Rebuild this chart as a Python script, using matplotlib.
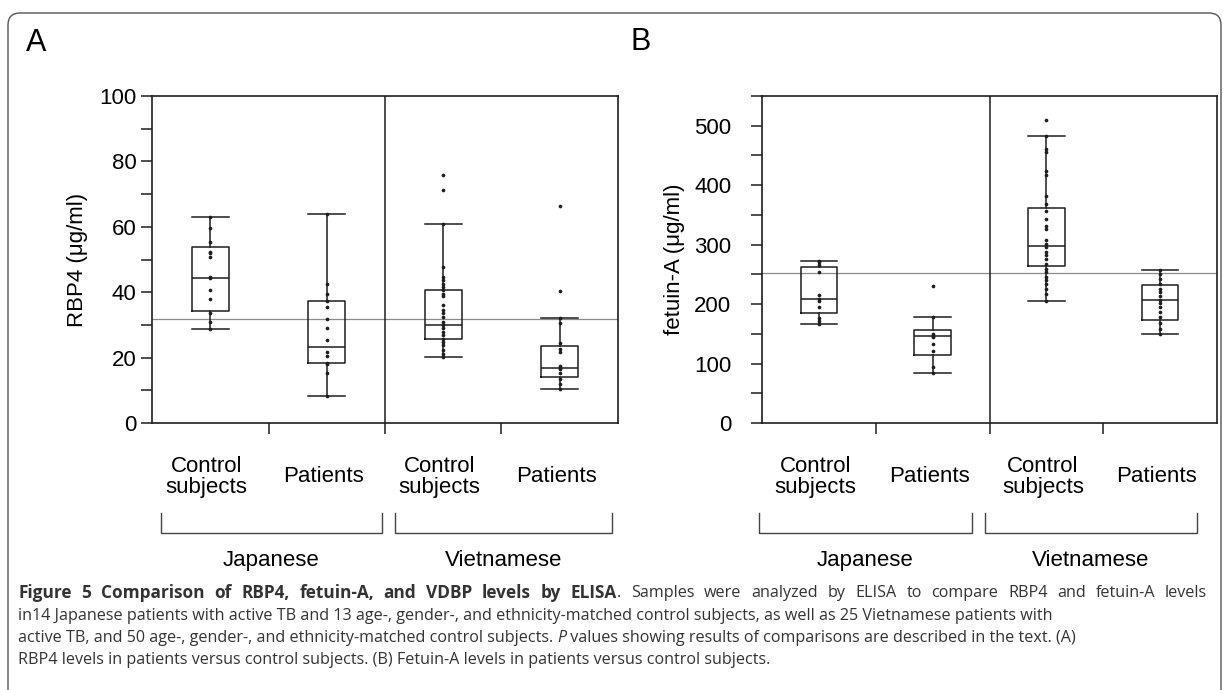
import matplotlib
matplotlib.use("Agg")
import matplotlib.pyplot as plt
from matplotlib.patches import FancyBboxPatch
from matplotlib.ticker import MultipleLocator

plt.rcParams['font.family'] = ['Liberation Sans', 'DejaVu Sans']

# group order: Japanese control, Japanese patients, Vietnamese control, Vietnamese patients
groups = ['Control\nsubjects', 'Patients', 'Control\nsubjects', 'Patients']
nations = ['Japanese', 'Vietnamese']

# panel A: RBP4 (ug/ml)
rbp4_whislo = [28.7, 8.3, 20.2, 10.4]
rbp4_q1 = [34.3, 18.2, 25.7, 14.0]
rbp4_med = [44.2, 23.3, 30.1, 16.9]
rbp4_q3 = [53.9, 37.4, 40.8, 23.6]
rbp4_whishi = [63.1, 63.9, 60.8, 32.2]
rbp4_pts_jc = [63.1, 59.7, 55.4, 52.3, 51.9, 50.8, 44.5, 44.2, 40.8, 37.9, 33.5, 31.0, 28.7]
rbp4_pts_jp = [63.9, 42.4, 39.6, 37.3, 35.5, 31.9, 29.1, 25.3, 21.7, 20.4, 18.4, 18.0, 15.3, 8.3]
rbp4_pts_vc = [75.8, 71.4, 60.8, 47.6, 44.7, 43.7, 42.4, 41.6, 40.6, 39.6, 38.8, 36.0, 34.5,
               33.5, 32.4, 30.9, 29.9, 28.9, 27.9, 26.8, 25.8, 24.8, 23.8, 22.4, 21.2, 20.2]
rbp4_pts_vp = [66.4, 40.4, 32.2, 30.7, 24.4, 22.5, 21.8, 17.4, 16.9, 16.5, 15.2, 13.4, 12.0, 10.4]
rbp4_ref = 31.8

# panel B: fetuin-A (ug/ml)
fet_whislo = [166, 84, 206, 150]
fet_q1 = [185, 114, 264, 174]
fet_med = [209, 146, 298, 207]
fet_q3 = [263, 157, 362, 232]
fet_whishi = [273, 178, 483, 258]
fet_pts_jc = [273, 271, 265, 254, 216, 209, 205, 195, 176, 172, 166]
fet_pts_jp = [231, 178, 150, 147, 144, 133, 121, 94, 84]
fet_pts_vc = [510, 483, 461, 455, 424, 417, 382, 368, 357, 343, 332, 326, 307, 301, 296,
              287, 282, 276, 268, 259, 254, 245, 240, 233, 226, 217, 206]
fet_pts_vp = [258, 251, 242, 234, 226, 220, 213, 207, 202, 195, 186, 178, 168, 158, 150]
fet_ref = 252

W, H = 1223, 690
fig = plt.figure(figsize=(W / 100, H / 100), dpi=100)
ink = '#1e1e1e'


def panel(rect, lo, q1, med, q3, hi, pts, ref, ymax, major, minor, ylabel, ylab_x, lab_pad,
          brackets):
    ax = fig.add_axes(rect)
    pos = [0.5, 1.5, 2.5, 3.5]
    stats = [dict(whislo=lo[i], q1=q1[i], med=med[i], q3=q3[i], whishi=hi[i], fliers=[])
             for i in range(4)]
    lp = dict(color=ink, linewidth=1.1)
    ax.bxp(stats, positions=pos, widths=0.32, showfliers=False,
           boxprops=lp, medianprops=lp, whiskerprops=lp, capprops=lp, capwidths=0.32)
    for x, p in zip(pos, pts):
        ax.scatter([x] * len(p), p, s=7, color=ink, zorder=3, linewidths=0)
    ax.axhline(ref, color='#8a8a8a', linewidth=0.9, zorder=1)
    ax.axvline(2, color=ink, linewidth=1.1)
    ax.set_xlim(0, 4)
    ax.set_ylim(0, ymax)
    ax.set_xticks([1, 2, 3])
    ax.set_xticklabels([])
    ax.yaxis.set_major_locator(MultipleLocator(major))
    ax.yaxis.set_minor_locator(MultipleLocator(minor))
    ax.tick_params(axis='both', which='both', direction='out', length=8, width=1.1,
                   color=ink, labelsize=16)
    ax.tick_params(axis='y', pad=lab_pad)
    for s in ax.spines.values():
        s.set_linewidth(1.2)
        s.set_color(ink)
    ax.set_ylabel(ylabel, fontsize=16)
    ax.yaxis.set_label_coords(ylab_x, 0.5)
    for x, g in zip(pos, groups):
        ax.text(x - 0.03, -0.165, g, transform=ax.get_xaxis_transform(), ha='center', va='center',
                fontsize=16, linespacing=1.05)
    for (x0, x1), name in zip(brackets, nations):
        ax.plot([x0, x0, x1, x1], [-0.275, -0.336, -0.336, -0.275], color='#444444',
                linewidth=1.0, transform=ax.get_xaxis_transform(), clip_on=False)
        ax.text((x0 + x1) / 2, -0.42, name, transform=ax.get_xaxis_transform(),
                ha='center', va='center', fontsize=16)
    return ax


panel([152 / W, 1 - 423 / H, 466 / W, 327 / H], rbp4_whislo, rbp4_q1, rbp4_med, rbp4_q3,
      rbp4_whishi, [rbp4_pts_jc, rbp4_pts_jp, rbp4_pts_vc, rbp4_pts_vp], rbp4_ref,
      100, 20, 10, 'RBP4 (\u03bcg/ml)', -0.137, 3, [(0.08, 1.97), (2.09, 3.95)])
panel([762 / W, 1 - 423 / H, 455 / W, 327 / H], fet_whislo, fet_q1, fet_med, fet_q3,
      fet_whishi, [fet_pts_jc, fet_pts_jp, fet_pts_vc, fet_pts_vp], fet_ref,
      550, 100, 50, 'fetuin-A (\u03bcg/ml)', -0.169, 14, [(-0.03, 1.85), (1.96, 3.82)])

fig.text(36 / W, 1 - 43 / H, 'A', fontsize=22, ha='center', va='center')
fig.text(641 / W, 1 - 42 / H, 'B', fontsize=22, ha='center', va='center')

# rounded frame round the whole figure
frame = FancyBboxPatch((8, -40), W - 10, H + 40 - 13, boxstyle='round,pad=0,rounding_size=12',
                       transform=None, facecolor='none', edgecolor='#555555', linewidth=1.0)
fig.patches.append(frame)

# caption
cap_font = ['Open Sans', 'DejaVu Sans']
cap_size = 11.6
bold_size = 12.4
cap_lines = [
    [('Figure 5 Comparison of RBP4, fetuin-A, and VDBP levels by ELISA', 'bold', 'normal'),
     ('. Samples were analyzed by ELISA to compare RBP4 and fetuin-A levels', 'normal', 'normal')],
    [('in14 Japanese patients with active TB and 13 age-, gender-, and ethnicity-matched control '
      'subjects, as well as 25 Vietnamese patients with', 'normal', 'normal')],
    [('active TB, and 50 age-, gender-, and ethnicity-matched control subjects. ', 'normal', 'normal'),
     ('P', 'normal', 'italic'),
     (' values showing results of comparisons are described in the text. (A)', 'normal', 'normal')],
    [('RBP4 levels in patients versus control subjects. (B) Fetuin-A levels in patients versus '
      'control subjects.', 'normal', 'normal')],
]
cap_y = [593, 616, 638, 660]
cap_x0, cap_x1 = 18, 1207
renderer = fig.canvas.get_renderer()


def cap_text(x, yy, txt, wt, st):
    size = bold_size if wt == 'bold' else cap_size
    return fig.text(x / W, 1 - yy / H, txt, fontsize=size, fontweight=wt, fontstyle=st,
                    family=cap_font, color='#333333', ha='left', va='center')


# first line is justified to the full width
words = []
for txt, wt, st in cap_lines[0]:
    for i, part in enumerate(txt.split(' ')):
        if part:
            glued = bool(words) and i == 0 and not txt.startswith(' ')
            words.append((cap_text(0, cap_y[0], part, wt, st), glued))
widths = [t.get_window_extent(renderer).width for t, _ in words]
n_gaps = sum(1 for _, g in words[1:] if not g)
gap = (cap_x1 - cap_x0 - sum(widths)) / n_gaps
x = cap_x0
for (t, glued), w in zip(words, widths):
    if glued:
        x -= gap
    t.set_x(x / W)
    x += w + gap

for segs, yy in zip(cap_lines[1:], cap_y[1:]):
    x = cap_x0
    for txt, wt, st in segs:
        t = cap_text(x, yy, txt, wt, st)
        x = t.get_window_extent(renderer).x1

fig.savefig('out.png', dpi=100)
